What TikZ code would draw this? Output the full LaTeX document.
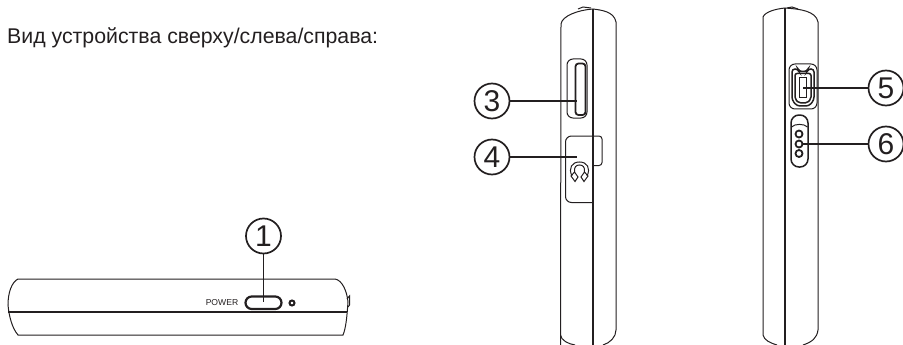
\documentclass[tikz,border=0pt]{standalone}
\usepackage{fontspec}
\setmainfont{Liberation Sans}
\definecolor{ink}{HTML}{231F20}
\tikzset{
  x=1pt,y=-1pt,
  thinline/.style={draw=ink,line width=1pt},
  midline/.style={draw=ink,line width=1.5pt},
  heavy/.style={draw=ink,line width=2.2pt},
  num/.style={circle,draw=ink,line width=1.7pt,minimum size=35pt,inner sep=0pt,text=ink,font=\fontsize{30}{30}\selectfont},
  lead/.style={draw=ink,line width=1.1pt},
}
\begin{document}
\begin{tikzpicture}
\useasboundingbox (0,0) rectangle (903,345);
\node[anchor=base west,inner sep=0pt,text=ink,font=\fontsize{21.3}{24}\selectfont] (title) at (7,43.5) {Вид устройства сверху/слева/справа:};

% --- top view
\draw[thinline] (18,279) -- (335,279) .. controls (342,280) and (347,291) .. (348,302) .. controls (347,316) and (346,328) .. (343,335) -- (18,335) .. controls (12,328) and (9,316) .. (8,305) .. controls (8,292) and (12,282) .. (18,279) -- cycle;
\draw[midline] (8,312) -- (347,312);
\draw[thinline] (347,299) -- (349.5,296) -- (349.5,305) -- (348,307);
\node[anchor=center,inner sep=0pt,text=ink,font=\fontsize{8.6}{9}\selectfont] (power) at (222,303) {POWER};
\draw[heavy,rounded corners=6.2pt] (245.5,296.5) rectangle (281.5,309);
\node[circle,draw=ink,line width=2pt,minimum size=5pt,inner sep=0pt] (dot) at (292,303) {};
\node[num] (n1) at (263.5,236) {1};
\coordinate (p1) at (263.5,302);
\draw[lead] (n1) -- (p1);

% --- left side view
\draw[thinline] (560.5,345) -- (560.5,335) -- (561,24) .. controls (562,16) and (578,10) .. (593,9) .. controls (600,10) and (614,11) .. (616,22) -- (616,330) .. controls (616,337) and (610,343) .. (603,345);
\draw[thinline] (560.5,335) .. controls (561,340) and (568,344) .. (575,345);
\draw[thinline] (578,9) -- (583,7) -- (591,8);
\draw[midline] (593,9) -- (593,345);
\draw[thinline,rounded corners=6pt] (567,59) rectangle (587,118);
\draw[midline,line width=1.8pt,rounded corners=3pt] (575.5,63.5) rectangle (585.5,115);
\draw[thinline,rounded corners=6pt] (593,136) -- (565.5,136) -- (565.5,202.5) -- (593,202.5);
\draw[thinline,rounded corners=3pt] (593,136) -- (602,136) -- (602,165.5) -- (593,165.5);
% headphones
\draw[thinline] (572,176) .. controls (568,168) and (572,162) .. (579.5,162) .. controls (587,162) and (591,168) .. (587,176);
\draw[thinline] (574.5,172) .. controls (574,167) and (576,165) .. (579.5,165) .. controls (583,165) and (585,167) .. (584.5,172);
\draw[thinline] (574.5,172) -- (571,176) -- (575,181.5) -- (578,177) -- cycle;
\draw[thinline] (584.5,172) -- (588,176) -- (584,181.5) -- (581,177) -- cycle;
\node[num] (n3) at (492,101) {3};
\coordinate (p3) at (577,101);
\draw[lead] (n3) -- (p3);
\node[num] (n4) at (492,157) {4};
\coordinate (p4) at (577,157);
\draw[lead] (n4) -- (p4);

% --- right side view
\draw[thinline] (777,345) .. controls (770,343) and (764,340) .. (763,335) -- (763,17) .. controls (765,12) and (775,9) .. (785,8) .. controls (800,9) and (816,11) .. (818,22) -- (818,330) .. controls (817,338) and (812,342) .. (803,345);
\draw[thinline] (787,8) -- (792,7) -- (798,9);
\draw[midline] (785,8) -- (785,345);
\draw[thinline,rounded corners=6pt] (789,64) rectangle (817,109);
\draw[midline,rounded corners=3pt] (792,69) -- (798,69) -- (799,71.5) -- (807,71.5) -- (808,69) -- (814,69) -- (814,100) -- (809,106) -- (797,106) -- (792,100) -- cycle;
\draw[midline,rounded corners=2pt] (795,73.5) -- (811,73.5) -- (811,99) -- (807,103) -- (799,103) -- (795,99) -- cycle;
\draw[thinline] (799,78) -- (806,78) -- (806,98) -- (799,98) -- cycle;
\draw[midline,rounded corners=8pt] (791,115) rectangle (808,167);
\draw[thinline] (791.5,127) .. controls (795,123.5) and (804,123.5) .. (807.5,127);
\node[circle,draw=ink,line width=1.8pt,minimum size=7pt,inner sep=0pt] (c1) at (799,134) {};
\node[circle,draw=ink,line width=1.8pt,minimum size=7pt,inner sep=0pt] (c2) at (799,144) {};
\node[circle,draw=ink,line width=1.8pt,minimum size=7pt,inner sep=0pt] (c3) at (799,153.5) {};
\node[num] (n5) at (886,88) {5};
\coordinate (p5) at (803,88);
\draw[lead] (n5) -- (p5);
\node[num] (n6) at (886,144) {6};
\draw[lead] (n6) -- (c2);
\end{tikzpicture}
\end{document}
